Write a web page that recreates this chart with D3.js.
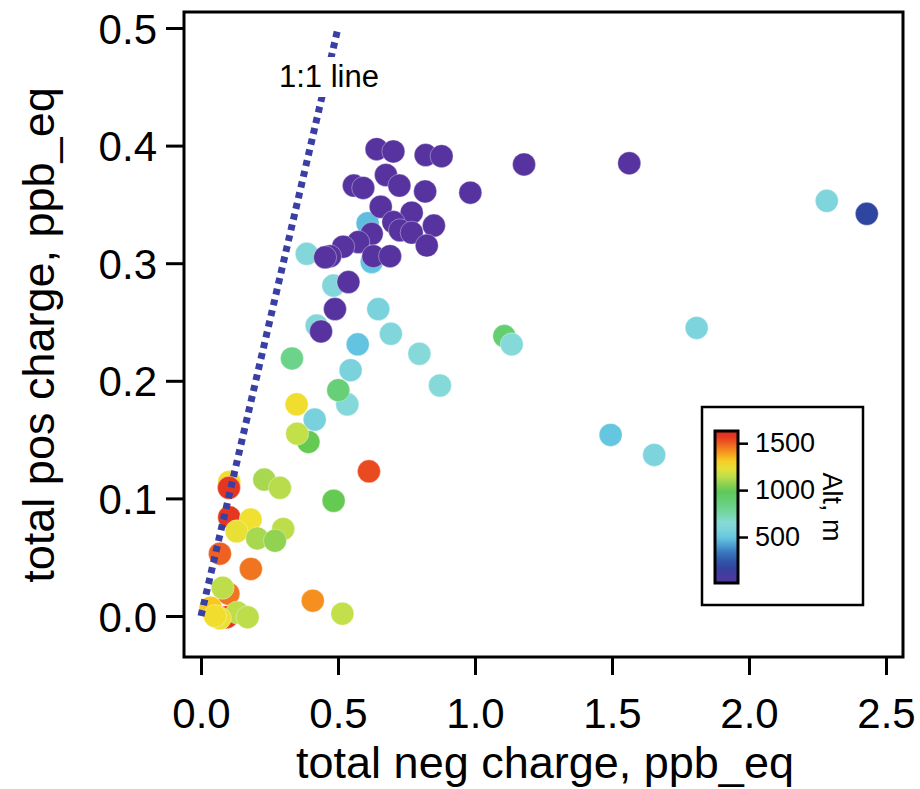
<!DOCTYPE html>
<html>
<head>
<meta charset="utf-8" />
<script src="https://d3js.org/d3.v7.min.js"></script>
<style>
  body { margin: 0; background: #fff; }
  svg { display: block; font-family: "Liberation Sans", Arial, Helvetica, sans-serif; }
</style>
</head>
<body>
<svg id="chart" width="920" height="789"></svg>
<script>
// values, in drawing order (later = on top)
var negCharge = [
  // cyan / blue group
  0.608, 0.623, 0.386, 0.483, 0.647, 0.422, 0.693, 0.572, 0.797, 0.546,
  0.534, 0.872, 0.415, 1.107, 1.134, 1.809, 2.284, 1.495, 1.654,
  // green / yellow mid
  0.332, 0.534, 0.501, 0.392, 0.351, 0.349, 0.484,
  // low group
  0.613, 0.103, 0.102, 0.231, 0.288, 0.103, 0.181, 0.130, 0.205, 0.300,
  0.270, 0.069, 0.182, 0.100, 0.079, 0.408, 0.516, 0.035, 0.094, 0.132,
  0.170, 0.069, 0.051,
  // purple group
  0.641, 0.702, 0.820, 0.878, 1.179, 1.563, 0.675, 0.724, 0.558, 0.592,
  0.818, 0.983, 0.656, 0.769, 0.702, 0.850, 0.623, 0.726, 0.769, 0.574,
  0.519, 0.824, 0.471, 0.453, 0.629, 0.690, 0.538, 0.489, 0.438, 2.430
];
var posCharge = [
  0.334, 0.301, 0.308, 0.281, 0.261, 0.247, 0.240, 0.231, 0.223, 0.209,
  0.180, 0.196, 0.167, 0.238, 0.231, 0.245, 0.353, 0.154, 0.137,
  0.219, 0.180, 0.192, 0.148, 0.155, 0.180, 0.098,
  0.123, 0.114, 0.109, 0.116, 0.109, 0.084, 0.082, 0.072, 0.066, 0.074,
  0.064, 0.053, 0.040, 0.019, 0.024, 0.013, 0.002, 0.007, -0.001, 0.003,
  -0.001, -0.002, 0.000,
  0.397, 0.395, 0.392, 0.391, 0.384, 0.385, 0.375, 0.366, 0.366, 0.364,
  0.361, 0.360, 0.348, 0.343, 0.335, 0.332, 0.325, 0.328, 0.326, 0.318,
  0.314, 0.315, 0.306, 0.305, 0.306, 0.306, 0.284, 0.261, 0.242, 0.342
];
var altitude = [
  470, 480, 620, 620, 570, 620, 600, 480, 640, 570,
  630, 640, 560, 900, 640, 580, 590, 490, 580,
  820, 630, 880, 1010, 1150, 1270, 1010,
  1520, 1270, 1580, 1100, 1130, 1580, 1260, 1240, 1100, 1140,
  1070, 1490, 1460, 1460, 1140, 1410, 1150, 1330, 1580, 1140,
  1140, 1250, 1270,
  0, 0, 0, 0, 0, 0, 0, 0, 0, 0,
  0, 0, 0, 0, 0, 0, 0, 0, 0, 0,
  0, 0, 0, 0, 0, 0, 0, 0, 0, 200
];
var xTicks = [0, 0.5, 1.0, 1.5, 2.0, 2.5];
var yTicks = [0, 0.1, 0.2, 0.3, 0.4, 0.5];
var altTicks = [500, 1000, 1500];
var altStops = [0, 200, 350, 480, 580, 650, 800, 1000, 1100, 1160, 1260, 1330, 1410, 1470, 1520, 1630];
var altColors = ["#56339f", "#2e46a0", "#3a7cc0", "#62c4e0", "#7dd4dc", "#88dad8", "#6dd490", "#5cc852",
  "#a8d850", "#c8e048", "#f0e030", "#f8c820", "#f59020", "#f07020", "#ea4a20", "#e02820"];

var svg = d3.select("#chart");
var frame = { left: 184, right: 903, top: 12, bottom: 657 };

var x = d3.scaleLinear().domain([0, 2.5]).range([201, 886]);
var y = d3.scaleLinear().domain([0, 0.5]).range([616, 28]);
var color = d3.scaleLinear().domain(altStops).range(altColors).clamp(true);

var points = negCharge.map(function (d, i) {
  return { neg: d, pos: posCharge[i], alt: altitude[i] };
});

// dots
svg.append("g")
  .selectAll("circle")
  .data(points)
  .enter()
  .append("circle")
  .attr("cx", function (d) { return x(d.neg); })
  .attr("cy", function (d) { return y(d.pos); })
  .attr("r", 11.5)
  .attr("fill", function (d) { return color(d.alt); })
  .attr("stroke", "#fff")
  .attr("stroke-width", 0.8)
  .attr("stroke-opacity", 0.45);

// 1:1 line
svg.append("line")
  .attr("x1", x(0)).attr("y1", y(0))
  .attr("x2", x(0.5)).attr("y2", y(0.5))
  .attr("stroke", "#3a3fa3")
  .attr("stroke-width", 7)
  .attr("stroke-dasharray", "6,5");

// label sits on a white patch that hides the line behind it
svg.append("rect")
  .attr("x", 276).attr("y", 57)
  .attr("width", 112).attr("height", 40)
  .attr("fill", "#fff");
svg.append("text")
  .attr("x", 279).attr("y", 87)
  .attr("font-size", 31)
  .text("1:1 line");

// frame
svg.append("rect")
  .attr("x", frame.left).attr("y", frame.top)
  .attr("width", frame.right - frame.left)
  .attr("height", frame.bottom - frame.top)
  .attr("fill", "none")
  .attr("stroke", "#000")
  .attr("stroke-width", 3);

// axes
var xAxis = svg.append("g")
  .attr("transform", "translate(0," + frame.bottom + ")")
  .call(d3.axisBottom(x).tickValues(xTicks).tickFormat(d3.format(".1f"))
    .tickSize(18).tickSizeOuter(0).tickPadding(23));
var yAxis = svg.append("g")
  .attr("transform", "translate(" + frame.left + ",0)")
  .call(d3.axisLeft(y).tickValues(yTicks).tickFormat(d3.format(".1f"))
    .tickSize(18).tickSizeOuter(0).tickPadding(9));

[xAxis, yAxis].forEach(function (g) {
  g.select(".domain").remove();
  g.selectAll(".tick line").attr("stroke", "#000").attr("stroke-width", 3);
  g.selectAll(".tick text")
    .attr("fill", "#000")
    .attr("font-size", 42)
    .attr("font-family", "'Liberation Sans', Arial, sans-serif");
});
yAxis.selectAll(".tick text").attr("dy", "0.36em");

// axis titles
svg.append("text")
  .attr("x", 545).attr("y", 778)
  .attr("text-anchor", "middle")
  .attr("font-size", 45)
  .text("total neg charge, ppb_eq");

svg.append("text")
  .attr("transform", "translate(54,335) rotate(-90)")
  .attr("text-anchor", "middle")
  .attr("font-size", 45)
  .text("total pos charge, ppb_eq");

// colour bar legend
var cbar = { x: 715, w: 23, top: 431, bottom: 583 };
var altScale = d3.scaleLinear().domain([10, 1630]).range([cbar.bottom, cbar.top]);

var grad = svg.append("defs").append("linearGradient")
  .attr("id", "altgrad")
  .attr("x1", 0).attr("y1", 1).attr("x2", 0).attr("y2", 0);
d3.range(0, 1.0001, 0.05).forEach(function (t) {
  grad.append("stop")
    .attr("offset", t)
    .attr("stop-color", color(10 + t * 1620));
});

svg.append("rect")
  .attr("x", 702).attr("y", 407)
  .attr("width", 161).attr("height", 198)
  .attr("fill", "#fff")
  .attr("stroke", "#000")
  .attr("stroke-width", 2.5);

svg.append("rect")
  .attr("x", cbar.x).attr("y", cbar.top)
  .attr("width", cbar.w).attr("height", cbar.bottom - cbar.top)
  .attr("fill", "url(#altgrad)")
  .attr("stroke", "#000")
  .attr("stroke-width", 3);

var altAxis = svg.append("g")
  .attr("transform", "translate(" + (cbar.x + cbar.w) + ",0)")
  .call(d3.axisRight(altScale).tickValues(altTicks).tickFormat(d3.format("d"))
    .tickSize(10).tickSizeOuter(0).tickPadding(7));
altAxis.select(".domain").remove();
altAxis.selectAll(".tick line").attr("stroke", "#000").attr("stroke-width", 2.5);
altAxis.selectAll(".tick text")
  .attr("fill", "#000")
  .attr("font-size", 27)
  .attr("font-family", "'Liberation Sans', Arial, sans-serif");

svg.append("text")
  .attr("transform", "translate(823,507) rotate(90)")
  .attr("text-anchor", "middle")
  .attr("font-size", 27)
  .text("Alt, m");
</script>
</body>
</html>
